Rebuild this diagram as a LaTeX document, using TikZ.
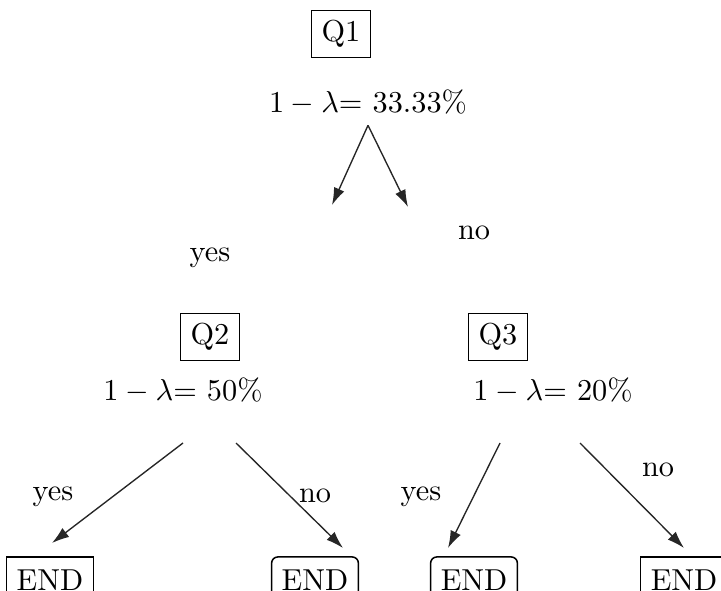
\documentclass[tikz,border=0pt]{standalone}
\usepackage{amsmath}
\usetikzlibrary{arrows.meta}
\tikzset{
  qbox/.style={draw,line width=0.5pt,inner sep=3.33pt},
  endbox/.style={draw,line width=0.5pt,inner sep=3.33pt,minimum height=15.2pt},
  endboxr/.style={endbox,rounded corners=2pt},
  rate/.style={inner sep=3.33pt},
  ans/.style={inner sep=1pt},
  branch/.style={-{Latex[length=2mm,width=1.3mm]},line width=0.45pt,draw=black!85},
}

\begin{document}
\begin{tikzpicture}[x=0.33pt,y=-0.33pt]
  \useasboundingbox (0,0) rectangle (721,591);
  % root question
  \node[qbox](q1) at (341,34){Q1};
  \node[rate](r1) at (368,102){$1-\lambda$= 33.33\%};
  \coordinate (r1y) at (332,205);
  \coordinate (r1n) at (408,207);
  \draw[branch](r1.south)--(r1y);
  \draw[branch](r1.south)--(r1n);
  \node[ans](a1y) at (210,258){yes};
  \node[ans](a1n) at (474,233){no};
  % second level
  \node[qbox](q2) at (210,337){Q2};
  \node[rate](r2) at (183,390){$1-\lambda$= 50\%};
  \node[qbox](q3) at (498,337){Q3};
  \node[rate](r3) at (553,390){$1-\lambda$= 20\%};
  \coordinate (r2a) at (183,443);
  \coordinate (r2b) at (236,443);
  \coordinate (r3a) at (500,443);
  \coordinate (r3b) at (580,443);
  % leaves
  \node[endbox](e1) at (50,580){END};
  \node[endboxr](e2) at (315,580){END};
  \node[endboxr](e3) at (474,580){END};
  \node[endbox](e4) at (684,580){END};
  \coordinate (e1t) at (52,543);
  \coordinate (e2t) at (343,548);
  \coordinate (e3t) at (448,548);
  \coordinate (e4t) at (684,548);
  \draw[branch](r2a)--(e1t);
  \draw[branch](r2b)--(e2t);
  \draw[branch](r3a)--(e3t);
  \draw[branch](r3b)--(e4t);
  \node[ans](a2y) at (53,497){yes};
  \node[ans](a2n) at (315,496){no};
  \node[ans](a3y) at (421,497){yes};
  \node[ans](a3n) at (658,470){no};
\end{tikzpicture}
\end{document}
